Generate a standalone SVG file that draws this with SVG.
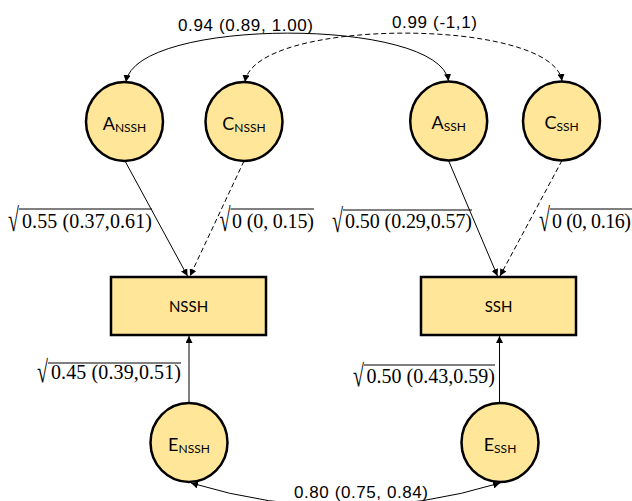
<svg xmlns="http://www.w3.org/2000/svg" width="632" height="501" viewBox="0 0 632 501">
<style>
.node{fill:#FFE699;stroke:#000;stroke-width:2.5}
.lbl{font-family:"Lato","Liberation Sans",sans-serif;fill:#000}
.num{font-family:"Liberation Sans",Arial,sans-serif;font-size:17px;fill:#000}
.math{font-family:"Liberation Serif","Times New Roman",serif;font-size:20px;fill:#000}
.vinc{stroke:#000;stroke-width:1}
.conn{fill:none;stroke:#000;stroke-width:1}
.dash{stroke-dasharray:5 3}
</style>
<defs>
<marker id="ah" markerUnits="userSpaceOnUse" markerWidth="8" markerHeight="7" refX="7" refY="3.5" orient="auto-start-reverse">
<path d="M0,0 L7,3.5 L0,7 z" fill="#000"/>
</marker>
</defs>
<g id="connectors">
<path class="conn" d="M126,82 C135,17 440,17 448.5,81" marker-start="url(#ah)" marker-end="url(#ah)"/>
<path class="conn dash" d="M245,82 C254,17 553,17 562,81" marker-start="url(#ah)" marker-end="url(#ah)"/>
<line class="conn" x1="125" y1="161" x2="187.5" y2="276" marker-end="url(#ah)"/>
<line class="conn dash" x1="244" y1="161" x2="190" y2="276" marker-end="url(#ah)"/>
<line class="conn" x1="448.5" y1="160.5" x2="497.5" y2="276" marker-end="url(#ah)"/>
<line class="conn dash" x1="562" y1="160.5" x2="500" y2="276" marker-end="url(#ah)"/>
<line class="conn" x1="189" y1="403" x2="189" y2="336" marker-end="url(#ah)"/>
<line class="conn" x1="499.5" y1="403" x2="499.5" y2="336" marker-end="url(#ah)"/>
<path class="conn" d="M191,483 Q346,530 500,483" marker-start="url(#ah)" marker-end="url(#ah)"/>
</g>
<g id="labels">
<text class="num" x="178" y="31" textLength="135">0.94 (0.89, 1.00)</text>
<text class="num" x="392" y="28" textLength="85">0.99 (-1,1)</text>
<text class="num" x="294" y="498" textLength="134">0.80 (0.75, 0.84)</text>
<text class="math" transform="translate(8,231) scale(1,1.65)">√</text><line class="vinc" x1="19" y1="209" x2="152" y2="209"/><text class="math" x="22" y="228" textLength="130">0.55 (0.37,0.61)</text>
<text class="math" transform="translate(219.5,231) scale(1,1.65)">√</text><line class="vinc" x1="230.5" y1="209" x2="314" y2="209"/><text class="math" x="232" y="228" textLength="82">0 (0, 0.15)</text>
<text class="math" transform="translate(332,232) scale(1,1.65)">√</text><line class="vinc" x1="343" y1="210" x2="472" y2="210"/><text class="math" x="345" y="228" textLength="127">0.50 (0.29,0.57)</text>
<text class="math" transform="translate(539,231) scale(1,1.65)">√</text><line class="vinc" x1="550" y1="209" x2="632" y2="209"/><text class="math" x="552" y="228" textLength="79">0 (0, 0.16)</text>
<text class="math" transform="translate(37,382) scale(1,1.55)">√</text><line class="vinc" x1="48" y1="363" x2="181" y2="363"/><text class="math" x="51" y="379" textLength="130">0.45 (0.39,0.51)</text>
<text class="math" transform="translate(353,386) scale(1,1.55)">√</text><line class="vinc" x1="364" y1="365" x2="495" y2="365"/><text class="math" x="366.5" y="383" textLength="128.5">0.50 (0.43,0.59)</text>
</g>
<g id="A_NSSH"><ellipse class="node" cx="124.5" cy="121.5" rx="38.5" ry="39.5"/><text class="lbl" x="124.5" y="129.5" text-anchor="middle" font-size="18">A<tspan font-size="12" dy="2">NSSH</tspan></text></g>
<g id="C_NSSH"><ellipse class="node" cx="244" cy="121.5" rx="38.5" ry="39.5"/><text class="lbl" x="244" y="129.5" text-anchor="middle" font-size="18">C<tspan font-size="12" dy="2">NSSH</tspan></text></g>
<g id="A_SSH"><ellipse class="node" cx="448.7" cy="121" rx="38.5" ry="39.5"/><text class="lbl" x="448.7" y="129" text-anchor="middle" font-size="18">A<tspan font-size="12" dy="2">SSH</tspan></text></g>
<g id="C_SSH"><ellipse class="node" cx="561.5" cy="121" rx="38.5" ry="39.5"/><text class="lbl" x="561.5" y="129" text-anchor="middle" font-size="18">C<tspan font-size="12" dy="2">SSH</tspan></text></g>
<g id="NSSH"><rect class="node" x="111" y="277" width="155" height="58"/><text class="lbl" x="188.5" y="312" text-anchor="middle" font-size="15">NSSH</text></g>
<g id="SSH"><rect class="node" x="421" y="277" width="155" height="58"/><text class="lbl" x="498.5" y="312" text-anchor="middle" font-size="15">SSH</text></g>
<g id="E_NSSH"><ellipse class="node" cx="189" cy="442.5" rx="38.5" ry="39.5"/><text class="lbl" x="189" y="451" text-anchor="middle" font-size="18">E<tspan font-size="12" dy="2">NSSH</tspan></text></g>
<g id="E_SSH"><ellipse class="node" cx="500" cy="442.5" rx="38.5" ry="39.5"/><text class="lbl" x="500" y="451" text-anchor="middle" font-size="18">E<tspan font-size="12" dy="2">SSH</tspan></text></g>
</svg>
